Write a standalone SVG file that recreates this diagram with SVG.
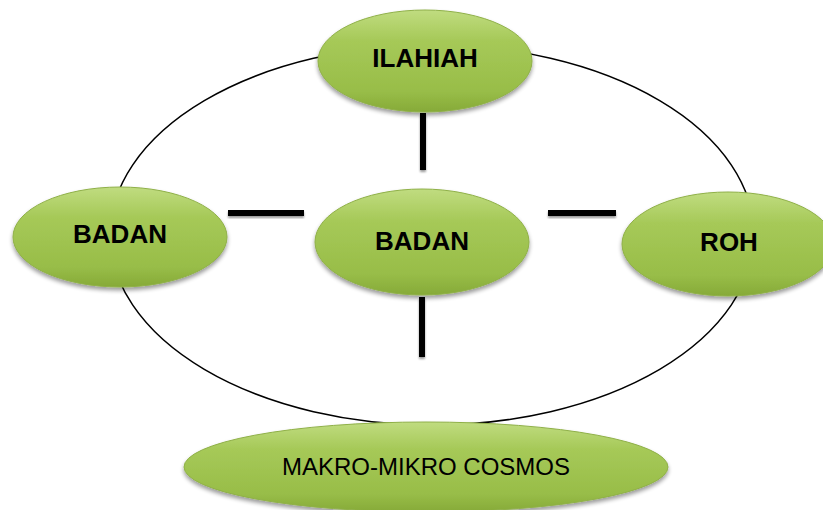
<svg xmlns="http://www.w3.org/2000/svg" width="823" height="510" viewBox="0 0 823 510">
<style>
.node{fill:url(#g);stroke:#8fb048;stroke-width:1;filter:url(#sh)}
.lbl{font-family:"Liberation Sans",Arial,sans-serif;font-weight:bold;font-size:26px;fill:#000;text-anchor:middle}
.lbl2{font-family:"Liberation Sans",Arial,sans-serif;font-size:24px;fill:#000;text-anchor:middle}
.bar{fill:#000;filter:url(#sh2)}
</style>
<defs>
<linearGradient id="g" x1="0" y1="0" x2="0" y2="1">
<stop offset="0" stop-color="#c0dc80"/>
<stop offset="0.3" stop-color="#a6c958"/>
<stop offset="0.8" stop-color="#98bd48"/>
<stop offset="1" stop-color="#86aa38"/>
</linearGradient>
<filter id="sh" x="-10%" y="-10%" width="120%" height="130%">
<feGaussianBlur in="SourceAlpha" stdDeviation="2"/>
<feOffset dy="3" result="b"/>
<feComponentTransfer><feFuncA type="linear" slope="0.4"/></feComponentTransfer>
<feMerge><feMergeNode/><feMergeNode in="SourceGraphic"/></feMerge>
</filter>
<filter id="sh2" x="-50%" y="-50%" width="200%" height="200%">
<feGaussianBlur in="SourceAlpha" stdDeviation="1"/>
<feOffset dy="2" result="b"/>
<feComponentTransfer><feFuncA type="linear" slope="0.4"/></feComponentTransfer>
<feMerge><feMergeNode/><feMergeNode in="SourceGraphic"/></feMerge>
</filter>
</defs>
<rect width="823" height="510" fill="#fff"/>
<g id="connectors">
<ellipse cx="432" cy="235" rx="322" ry="190" fill="none" stroke="#000" stroke-width="1.5"/>
<rect class="bar" x="420" y="113" width="6" height="57"/>
<rect class="bar" x="228" y="210" width="76" height="6"/>
<rect class="bar" x="548" y="210" width="68" height="6"/>
<rect class="bar" x="419" y="297" width="6" height="60"/>
</g>
<g id="ilahiah"><ellipse class="node" cx="425" cy="61" rx="107" ry="51"/><text class="lbl" x="425" y="67">ILAHIAH</text></g>
<g id="badan-left"><ellipse class="node" cx="120" cy="237" rx="107" ry="50"/><text class="lbl" x="120" y="243">BADAN</text></g>
<g id="badan-center"><ellipse class="node" cx="422" cy="242" rx="107" ry="53"/><text class="lbl" x="422" y="250">BADAN</text></g>
<g id="roh"><ellipse class="node" cx="728" cy="244" rx="106" ry="52"/><text class="lbl" x="729" y="251">ROH</text></g>
<g id="makro"><ellipse class="node" cx="426" cy="467" rx="242" ry="45"/><text class="lbl2" x="426" y="475">MAKRO-MIKRO COSMOS</text></g>
</svg>
